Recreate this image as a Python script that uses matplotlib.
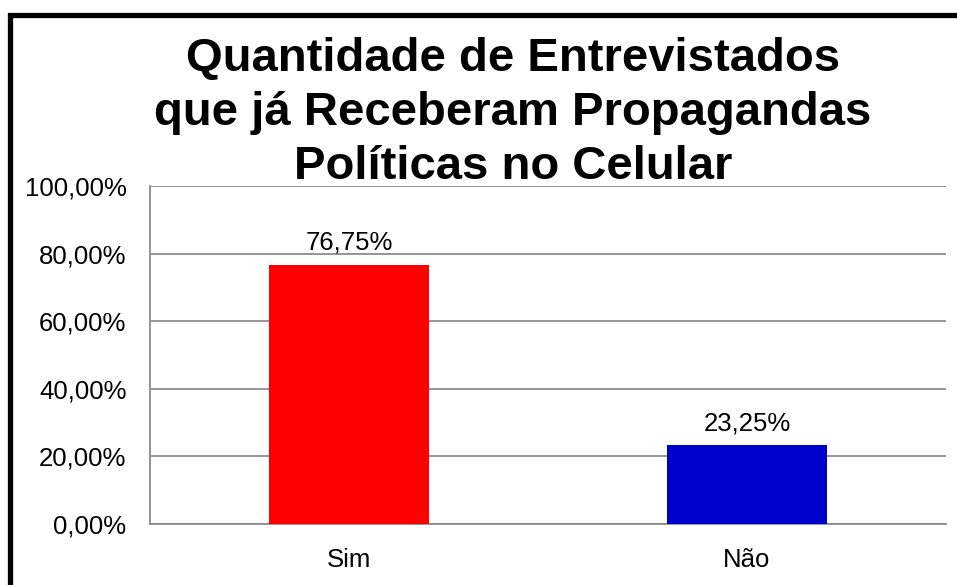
import matplotlib
matplotlib.use("Agg")
import matplotlib.pyplot as plt
from matplotlib.patches import Rectangle
from matplotlib.ticker import FuncFormatter

categories = ["Sim", "Não"]
values = [76.75, 23.25]
colors = ["#FF0000", "#0000CC"]
title = "Quantidade de Entrevistados\nque já Receberam Propagandas\nPolíticas no Celular"

plt.rcParams['font.family'] = ['Liberation Sans', 'DejaVu Sans']

W, H = 957, 585
fig = plt.figure(figsize=(W/100, H/100), dpi=100)
ax = fig.add_axes([150/W, 1-524/H, (946-150)/W, (524-186)/H])

x = range(len(categories))
bars = ax.bar(x, values, width=0.4, color=colors, zorder=3)
ax.set_xlim(-0.5, 1.5)
ax.set_ylim(0, 100)
ax.set_yticks([0, 20, 40, 60, 80, 100])
ax.yaxis.set_major_formatter(FuncFormatter(lambda v, p: f"{v:.2f}%".replace(".", ",")))
ax.set_xticks(list(x))
ax.set_xticklabels(categories)
ax.tick_params(axis='both', length=0, labelsize=18.5, colors='black')
ax.tick_params(axis='y', pad=17)
ax.tick_params(axis='x', pad=17)
ax.yaxis.grid(True, color='#8c8c8c', linewidth=1.3, zorder=0)
for s in ['top', 'right']:
    ax.spines[s].set_visible(False)
for s in ['left', 'bottom']:
    ax.spines[s].set_color('#8c8c8c')
    ax.spines[s].set_linewidth(1.3)

for b, v in zip(bars, values):
    ax.annotate(f"{v:.2f}%".replace(".", ","), (b.get_x()+b.get_width()/2, v),
                xytext=(0, 7), textcoords='offset points', ha='center', va='bottom',
                fontsize=18.5)

fig.text(513/W, 1-113/H, title, ha='center', va='center', fontsize=34,
         fontweight='bold', linespacing=1.3)

fig.patches.append(Rectangle((10/W, -0.1), 1.2, 1-15/H+0.1, transform=fig.transFigure,
                             fill=False, edgecolor='black', linewidth=3.8, zorder=10))

fig.savefig("out.png", dpi=100)
